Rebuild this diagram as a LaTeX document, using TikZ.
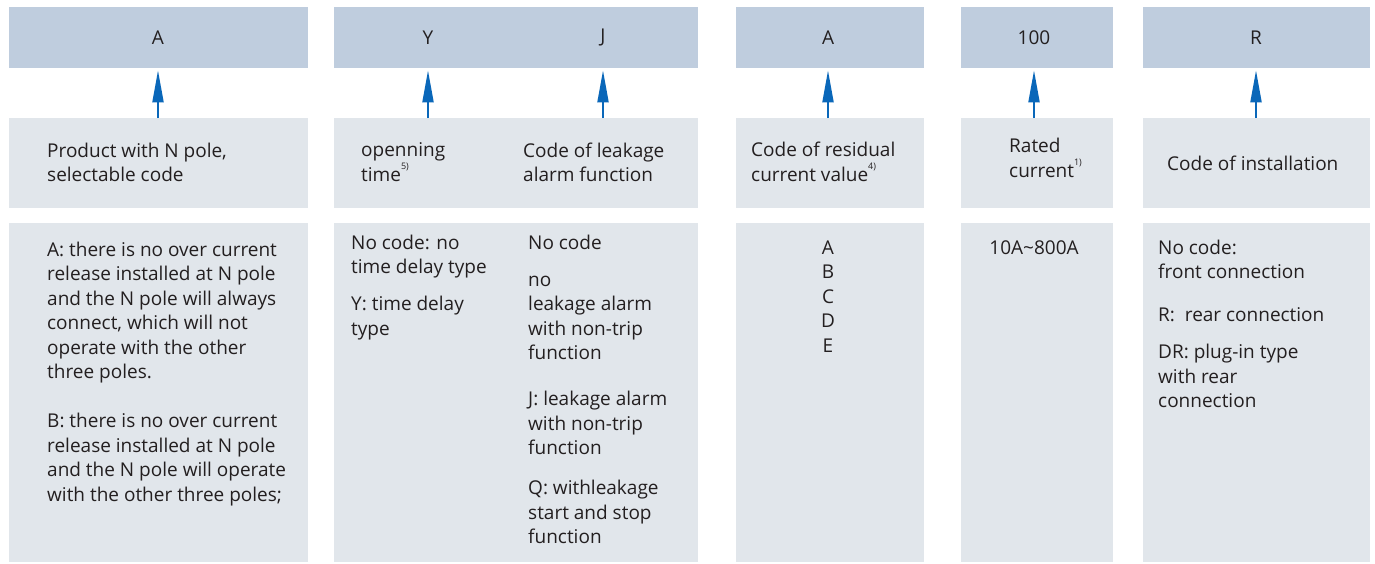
\documentclass[tikz,border=0pt]{standalone}
\usepackage{fontspec}
\setmainfont{Open Sans}
\usetikzlibrary{arrows.meta}
\definecolor{hdrblue}{HTML}{BFCDDE}
\definecolor{boxgray}{HTML}{E1E6EB}
\definecolor{arrblue}{HTML}{0A67B9}
\definecolor{inkgray}{HTML}{231F20}
% lines hung from the first baseline
\newcommand{\leftlines}[1]{\begin{tabular}[t]{@{}l@{}}#1\end{tabular}}
\newcommand{\midlines}[1]{\begin{tabular}[t]{@{}c@{}}#1\end{tabular}}
\newcommand{\fnote}[1]{\raisebox{0.62em}{\fontsize{9}{9}\selectfont #1}}

\begin{document}
\begin{tikzpicture}[x=1pt, y=-1pt,
  every node/.style={text=inkgray, font=\fontsize{19}{24.5}\selectfont},
  hdr/.style={fill=hdrblue, inner sep=0, anchor=north west, minimum height=61},
  box/.style={fill=boxgray, inner sep=0, anchor=north west},
  txt/.style={anchor=base west, inner sep=0},
  arr/.style={draw=arrblue, line width=2pt, -{Triangle[length=32pt,width=11pt]}, shorten >=2pt}]
  \useasboundingbox (0,0) rectangle (1375,563);

  % three rows of boxes, one column per code
  \foreach \n/\x/\w in {1/9/299, 2/334/364, 3/736/188, 4/961/152, 5/1143/227} {
    \node[hdr, minimum width=\w] (h\n) at (\x,7) {};
    \node[box, minimum width=\w, minimum height=90] (m\n) at (\x,118) {};
    \node[box, minimum width=\w, minimum height=339] (b\n) at (\x,223) {};
  }

  % code letters
  \node (cA) at (158,38) {A};
  \node (cY) at (428,38) {Y};
  \node (cJ) at (603,38) {J};
  \node (cAr) at (828,38) {A};
  \node (cI) at (1034,38) {100};
  \node (cR) at (1256,38) {R};

  % what each code means
  \node[txt] (t1) at (47,157) {\leftlines{Product with N pole,\\selectable code}};
  \node[txt] (t2a) at (361,156) {\leftlines{openning\\time\fnote{5)}}};
  \node[txt] (t2b) at (523,157) {\leftlines{Code of leakage\\alarm function}};
  \node[txt] (t3) at (751,156) {\leftlines{Code of residual\\current value\fnote{4)}}};
  \node[txt] (t4) at (1009,152) {\leftlines{Rated\\current\fnote{1)}}};
  \node[txt] (t5) at (1167,170) {Code of installation};

  % options
  \node[txt] (o1) at (47,256) {\leftlines{A: there is no over current\\release installed at N pole\\and the N pole will always\\connect, which will not\\operate with the other\\three poles.\\[24.5pt]B: there is no over current\\release installed at N pole\\and the N pole will operate\\with the other three poles;}};
  \node[txt] (o2a) at (351,249) {\leftlines{No code: no\\time delay type\\[12.5pt]Y: time delay\\type}};
  \node[txt] (o2b) at (528,249) {\leftlines{No code\\[12.5pt]no\\leakage alarm\\with non-trip\\function\\[21.5pt]J: leakage alarm\\with non-trip\\function\\[15.5pt]Q: withleakage\\start and stop\\function}};
  \node[txt, anchor=base] (o3) at (828,254) {\midlines{A\\B\\C\\D\\E}};
  \node[txt, anchor=base] (o4) at (1034,254) {10A\textasciitilde800A};
  \node[txt] (o5) at (1158,254) {\leftlines{No code:\\front connection\\[18.5pt]R:~~rear connection\\[12.5pt]DR: plug-in type\\with rear\\connection}};

  \draw[arr] (cA |- m1.north) -- (cA |- h1.south);
  \draw[arr] (cY |- m2.north) -- (cY |- h2.south);
  \draw[arr] (cJ |- m2.north) -- (cJ |- h2.south);
  \draw[arr] (cAr |- m3.north) -- (cAr |- h3.south);
  \draw[arr] (cI |- m4.north) -- (cI |- h4.south);
  \draw[arr] (cR |- m5.north) -- (cR |- h5.south);
\end{tikzpicture}
\end{document}
